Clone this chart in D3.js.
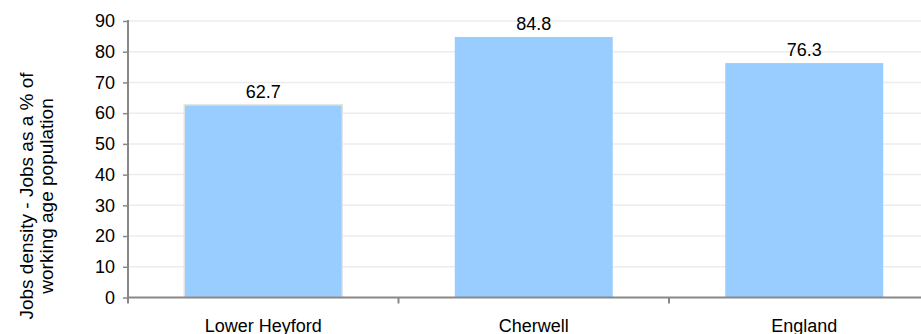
<!DOCTYPE html>
<html><head><meta charset="utf-8">
<script src="https://cdn.jsdelivr.net/npm/d3@7"></script>
<style>body{margin:0;background:#fff}svg{display:block;font-family:"Liberation Sans",Arial,sans-serif}</style>
</head><body><svg id="c" width="921" height="334"></svg>
<script>
const categories = ["Lower Heyford", "Cherwell", "England"];
const values = [62.7, 84.8, 76.3];
const yTicks = [0, 10, 20, 30, 40, 50, 60, 70, 80, 90];
const yTitle = ["Jobs density - Jobs as a % of", "working age population"];

(function () {
const svg = d3.select("#c");
const fs = 18;
const mLeft = 128, mTop = 21, mBottom = 297.5;
const bandW = 270.5;
const x = d3.scaleBand().domain(categories).range([mLeft, mLeft + bandW * categories.length]).paddingInner(0.416).paddingOuter(0.208);
const y = d3.scaleLinear().domain([0, 90]).range([mBottom, mTop]);

// gridlines
svg.append("g").selectAll("line").data(yTicks.slice(1)).join("line")
  .attr("x1", mLeft).attr("x2", 921).attr("y1", d => y(d)).attr("y2", d => y(d))
  .attr("stroke", "#ececec").attr("stroke-width", 1.5);

// bars
svg.append("g").selectAll("rect").data(values).join("rect")
  .attr("x", (d, i) => x(categories[i])).attr("width", x.bandwidth())
  .attr("y", d => y(d)).attr("height", d => mBottom - y(d))
  .attr("fill", "#99ccff")
  .attr("stroke", (d, i) => i === 0 ? "#e2e2e2" : "none").attr("stroke-width", 1.5);

// value labels
svg.append("g").selectAll("text").data(values).join("text")
  .attr("x", (d, i) => x(categories[i]) + x.bandwidth() / 2).attr("y", d => y(d) - 7)
  .attr("text-anchor", "middle").attr("font-size", fs).attr("fill", "#000")
  .text(d => d.toFixed(1));

// y axis
const yAxis = svg.append("g").attr("transform", `translate(${mLeft},0)`)
  .call(d3.axisLeft(y).tickValues(yTicks).tickSize(5).tickPadding(8).tickSizeOuter(0));
yAxis.select(".domain").attr("stroke", "#888").attr("stroke-width", 2).attr("d", `M0,${mTop - 1}V${mBottom + 4}`);
yAxis.selectAll(".tick line").attr("stroke", "#888").attr("stroke-width", 1.5);
yAxis.selectAll(".tick text").attr("font-size", fs).attr("fill", "#000").attr("font-family", "Liberation Sans, Arial, sans-serif");

// x axis
const xAxisG = svg.append("g").attr("transform", `translate(0,${mBottom})`);
xAxisG.append("line").attr("x1", mLeft).attr("x2", 921).attr("stroke", "#888").attr("stroke-width", 2);
const bounds = d3.range(categories.length + 1).map(i => mLeft + i * bandW);
xAxisG.selectAll("line.t").data(bounds).join("line").attr("class", "t")
  .attr("x1", d => d).attr("x2", d => d).attr("y1", 0).attr("y2", 6)
  .attr("stroke", "#888").attr("stroke-width", 2);
xAxisG.selectAll("text").data(categories).join("text")
  .attr("x", d => x(d) + x.bandwidth() / 2).attr("y", 34)
  .attr("text-anchor", "middle").attr("font-size", fs).attr("fill", "#000")
  .text(d => d);

// y title
const t = svg.append("text").attr("transform", "translate(0,196) rotate(-90)")
  .attr("text-anchor", "middle").attr("font-size", 19).attr("fill", "#000");
yTitle.forEach((s, i) => t.append("tspan").attr("x", 0).attr("y", 33 + i * 20).text(s));
})();
</script></body></html>
